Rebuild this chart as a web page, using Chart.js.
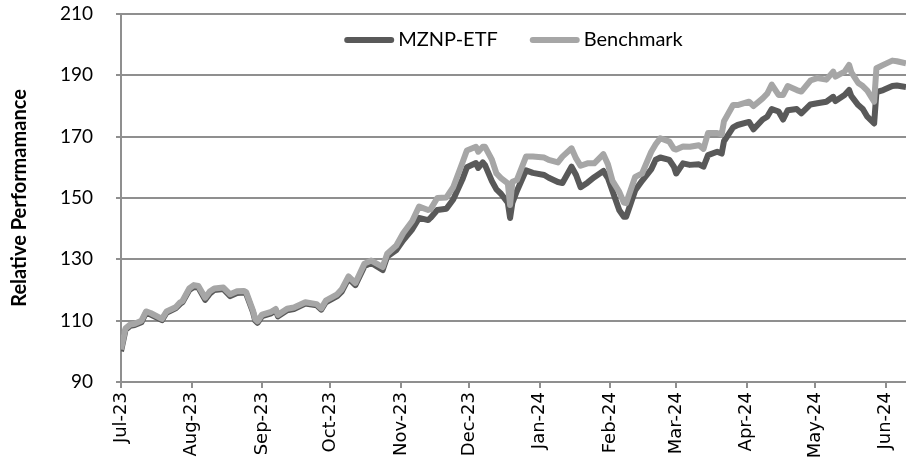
<!DOCTYPE html>
<html>
<head>
<meta charset="utf-8">
<script src="https://cdn.jsdelivr.net/npm/chart.js@4/dist/chart.umd.min.js"></script>
<style>
  html, body { margin: 0; padding: 0; background: #fff; }
  #wrap { width: 906px; height: 473px; }
</style>
</head>
<body>
<div id="wrap"><canvas id="perfChart"></canvas></div>
<script>
// sample dates and the two series
const dates = [
  '2023-07-01', '2023-07-03', '2023-07-05', '2023-07-07', '2023-07-10', '2023-07-12', '2023-07-14', '2023-07-19',
  '2023-07-21', '2023-07-25', '2023-07-27', '2023-07-28', '2023-07-31', '2023-08-02', '2023-08-04', '2023-08-07',
  '2023-08-09', '2023-08-11', '2023-08-15', '2023-08-18', '2023-08-21', '2023-08-24', '2023-08-25', '2023-08-28',
  '2023-08-29', '2023-08-30', '2023-09-01', '2023-09-05', '2023-09-07', '2023-09-08', '2023-09-12', '2023-09-15',
  '2023-09-20', '2023-09-25', '2023-09-27', '2023-09-29', '2023-10-04', '2023-10-06', '2023-10-09', '2023-10-12',
  '2023-10-16', '2023-10-19', '2023-10-24', '2023-10-26', '2023-10-30', '2023-11-02', '2023-11-06', '2023-11-09',
  '2023-11-13', '2023-11-14', '2023-11-17', '2023-11-21', '2023-11-24', '2023-11-28', '2023-11-30', '2023-12-04',
  '2023-12-05', '2023-12-07', '2023-12-08', '2023-12-11', '2023-12-13', '2023-12-15', '2023-12-18', '2023-12-19',
  '2023-12-20', '2023-12-22', '2023-12-26', '2023-12-29', '2024-01-03', '2024-01-05', '2024-01-09', '2024-01-11',
  '2024-01-15', '2024-01-17', '2024-01-19', '2024-01-22', '2024-01-25', '2024-01-29', '2024-01-31', '2024-02-02',
  '2024-02-05', '2024-02-07', '2024-02-08', '2024-02-09', '2024-02-12', '2024-02-15', '2024-02-19', '2024-02-21',
  '2024-02-23', '2024-02-27', '2024-02-29', '2024-03-01', '2024-03-04', '2024-03-07', '2024-03-11', '2024-03-13',
  '2024-03-15', '2024-03-19', '2024-03-21', '2024-03-22', '2024-03-26', '2024-03-28', '2024-04-02', '2024-04-04',
  '2024-04-08', '2024-04-10', '2024-04-12', '2024-04-15', '2024-04-17', '2024-04-19', '2024-04-23', '2024-04-25',
  '2024-04-29', '2024-05-02', '2024-05-06', '2024-05-09', '2024-05-10', '2024-05-14', '2024-05-16', '2024-05-17',
  '2024-05-20', '2024-05-22', '2024-05-24', '2024-05-27', '2024-05-28', '2024-05-31', '2024-06-04', '2024-06-06',
  '2024-06-10'
];

const mznp = [
  100.0, 107.0, 108.3, 108.6, 109.5, 112.6, 112.0, 110.2,
  112.6, 114.0, 115.5, 116.0, 120.0, 121.0, 120.8, 116.8,
  118.8, 120.0, 120.3, 118.0, 119.0, 119.2, 118.8, 112.8,
  110.0, 109.3, 111.5, 112.4, 113.4, 111.4, 113.4, 113.8,
  115.6, 115.0, 113.6, 116.0, 118.0, 119.5, 123.8, 121.6,
  127.8, 128.8, 126.5, 130.9, 133.0, 136.2, 139.8, 143.5,
  142.8, 143.5, 146.1, 146.5, 149.5, 156.0, 160.0, 161.4,
  159.8, 161.6, 160.7, 155.5, 152.8, 151.4, 148.5, 143.5,
  148.4, 152.3, 159.0, 158.2, 157.5, 156.6, 155.2, 154.9,
  160.2, 157.5, 153.5, 155.0, 156.8, 158.8, 156.5, 152.3,
  146.0, 143.9, 143.9, 146.0, 152.5, 155.6, 159.3, 162.5,
  163.2, 162.4, 160.2, 158.0, 161.3, 160.8, 161.0, 160.2,
  164.0, 165.1, 164.5, 168.5, 173.0, 173.8, 174.8, 172.4,
  175.6, 176.5, 179.0, 178.2, 175.6, 178.6, 179.0, 177.6,
  180.5, 180.9, 181.4, 183.0, 181.6, 183.6, 185.2, 183.2,
  180.3, 179.0, 176.5, 174.3, 184.5, 185.2, 186.5, 186.7,
  186.2
];

const benchmark = [
  100.6, 107.5, 108.7, 109.0, 110.0, 113.0, 112.5, 110.6,
  113.0, 114.4, 116.0, 116.4, 120.5, 121.6, 121.3, 117.5,
  119.5, 120.5, 120.8, 118.6, 119.6, 119.7, 119.3, 113.3,
  110.5, 109.8, 112.0, 112.9, 113.8, 111.9, 113.9, 114.3,
  116.0, 115.4, 114.0, 116.5, 118.6, 120.2, 124.4, 122.3,
  128.6, 129.6, 127.5, 131.8, 134.5, 138.5, 142.5, 147.2,
  146.1, 146.3, 150.0, 150.2, 153.5, 161.4, 165.5, 166.7,
  165.1, 166.7, 166.7, 162.5, 158.0, 156.5, 154.8, 147.7,
  155.3, 155.9, 163.5, 163.5, 163.2, 162.4, 161.6, 163.5,
  166.2, 162.9, 160.5, 161.3, 161.3, 164.3, 161.0, 155.6,
  152.0, 148.5, 148.3, 150.5, 156.9, 158.0, 165.0, 167.5,
  169.5, 168.4, 166.0, 165.8, 166.8, 166.7, 167.2, 166.0,
  171.2, 171.2, 170.7, 175.0, 180.3, 180.3, 181.4, 180.0,
  182.5, 184.0, 187.0, 183.6, 183.6, 186.5, 185.2, 184.7,
  188.3, 189.1, 188.6, 191.2, 189.6, 191.2, 193.4, 191.0,
  187.5, 186.5, 185.0, 181.4, 192.3, 193.4, 194.8, 194.6,
  193.9
];

const monthStarts = [
  '2023-07-01', '2023-08-01', '2023-09-01', '2023-10-01', '2023-11-01', '2023-12-01',
  '2024-01-01', '2024-02-01', '2024-03-01', '2024-04-01', '2024-05-01', '2024-06-01'
];
const monthLabels = ['Jul-23', 'Aug-23', 'Sep-23', 'Oct-23', 'Nov-23', 'Dec-23',
                     'Jan-24', 'Feb-24', 'Mar-24', 'Apr-24', 'May-24', 'Jun-24'];
const yTicks = [90, 110, 130, 150, 170, 190, 210];

// days since the first date, so the x axis behaves like a date axis
const dayMs = 86400000;
const t0 = Date.parse(dates[0] + 'T00:00:00Z');
const toDay = s => Math.round((Date.parse(s + 'T00:00:00Z') - t0) / dayMs);
const xDays = dates.map(toDay);
const tickDays = monthStarts.map(toDay);

const gridColor = '#8f8f8f';

// legend sits inside the plot, centred near the top
const inlineLegend = {
    id: 'inlineLegend',
    afterDraw(chart) {
        const ctx = chart.ctx;
        const area = chart.chartArea;
        const lineLen = 50, gap = 4, itemGap = 32;
        ctx.save();
        ctx.font = '20px Lato';
        ctx.textBaseline = 'middle';
        const items = chart.data.datasets.map(ds => ({ ds, w: ctx.measureText(ds.label).width }));
        const total = items.reduce((s, it) => s + lineLen + gap + it.w, 0) + itemGap * (items.length - 1);
        let x = (area.left + area.right) / 2 - total / 2;
        const y = area.top + 26;
        items.forEach(it => {
            ctx.strokeStyle = it.ds.borderColor;
            ctx.lineWidth = it.ds.borderWidth;
            ctx.lineCap = 'round';
            ctx.beginPath();
            ctx.moveTo(x + 3, y);
            ctx.lineTo(x + lineLen - 3, y);
            ctx.stroke();
            x += lineLen + gap;
            ctx.fillStyle = '#000';
            ctx.fillText(it.ds.label, x, y);
            x += it.w + itemGap;
        });
        ctx.restore();
    }
};

const perfCtx = document.getElementById('perfChart').getContext('2d');
const perfChart = new Chart(perfCtx, {
    type: 'line',
    data: {
        datasets: [{
            label: 'MZNP-ETF',
            data: xDays.map((d, i) => ({ x: d, y: mznp[i] })),
            borderColor: '#595959',
            borderWidth: 6,
            borderJoinStyle: 'round',
            pointRadius: 0,
            tension: 0,
            order: 1
        }, {
            label: 'Benchmark',
            data: xDays.map((d, i) => ({ x: d, y: benchmark[i] })),
            borderColor: '#a6a6a6',
            borderWidth: 6,
            borderJoinStyle: 'round',
            pointRadius: 0,
            tension: 0,
            order: 0
        }]
    },
    options: {
        responsive: true,
        maintainAspectRatio: false,
        animation: false,
        layout: { padding: { top: 14, right: 0, bottom: 0, left: 0 } },
        plugins: {
            legend: { display: false },
            tooltip: { enabled: false }
        },
        scales: {
            x: {
                type: 'linear',
                min: 0,
                max: xDays[xDays.length - 1],
                afterBuildTicks: scale => { scale.ticks = tickDays.map(v => ({ value: v })); },
                afterFit: scale => {
                    scale.height = 91;
                    scale.paddingLeft = 0;
                    scale.paddingRight = 0;
                },
                border: { color: gridColor, width: 2 },
                grid: { display: true, drawOnChartArea: false, color: gridColor, lineWidth: 2, tickLength: 6 },
                ticks: {
                    autoSkip: false,
                    minRotation: 90,
                    maxRotation: 90,
                    padding: 4,
                    color: '#000',
                    font: { family: 'DejaVu Sans', size: 18 },
                    callback: (v) => monthLabels[tickDays.indexOf(v)]
                }
            },
            y: {
                min: 90,
                max: 210,
                afterBuildTicks: scale => { scale.ticks = yTicks.map(v => ({ value: v })); },
                afterFit: scale => {
                    scale.width = 121;
                    scale.paddingTop = 0;
                    scale.paddingBottom = 0;
                },
                border: { color: gridColor, width: 2 },
                grid: { color: gridColor, lineWidth: 2, tickLength: 5 },
                ticks: {
                    padding: 23,
                    color: '#000',
                    font: { family: 'Lato', size: 19 }
                },
                title: {
                    display: true,
                    text: 'Relative Performamance',
                    color: '#000',
                    font: { family: 'Lato', size: 20, weight: 'bold' },
                    padding: { top: 8, bottom: 0 }
                }
            }
        }
    },
    plugins: [inlineLegend]
});
</script>
</body>
</html>
